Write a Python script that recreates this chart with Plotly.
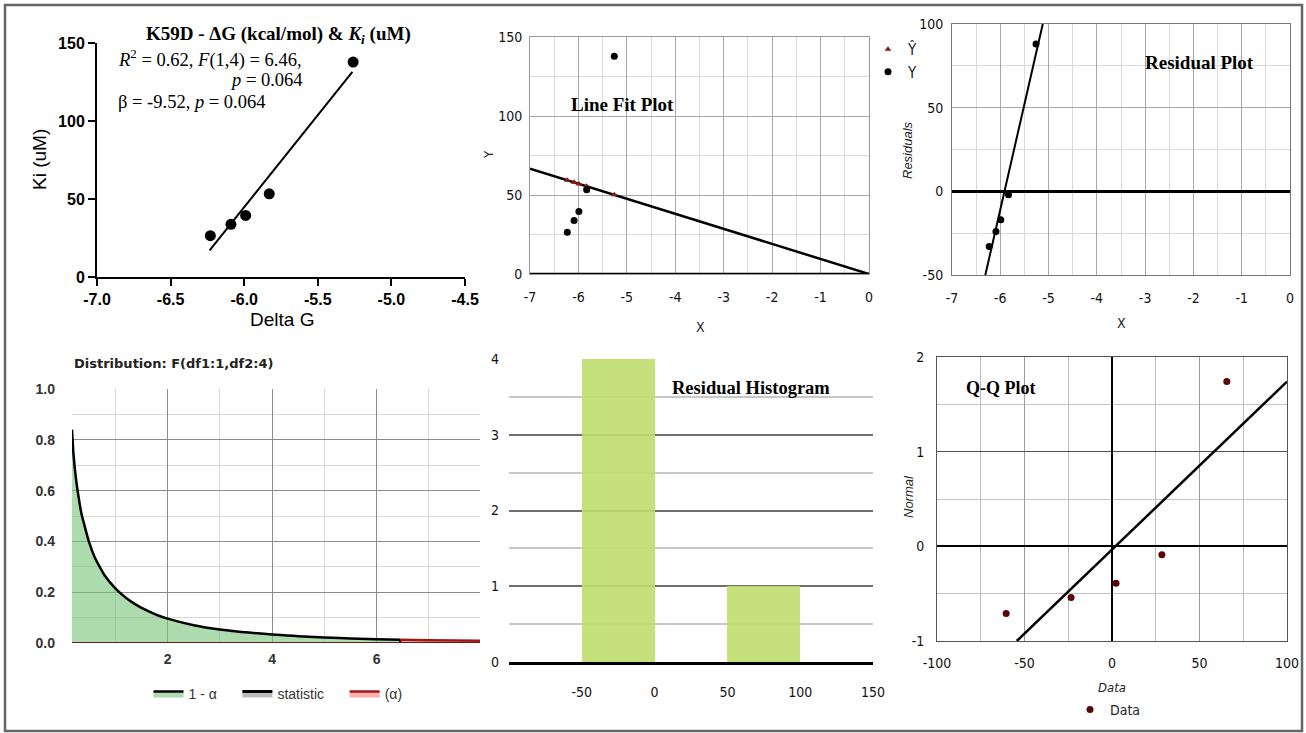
import numpy as np
import plotly.graph_objects as go

W, H = 1306, 733

# ---------------- data ----------------
# Panel 1: Delta G vs Ki
dg = [-6.23, -6.09, -5.99, -5.83, -5.26]
ki = [26.5, 33.8, 39.5, 53.3, 137.8]
ki_fit_x = [-6.235, -5.265]
ki_fit_y = [17.0, 131.5]
p1_xticks = [-7.0, -6.5, -6.0, -5.5, -5.0, -4.5]
p1_xlabels = ["-7.0", "-6.5", "-6.0", "-5.5", "-5.0", "-4.5"]
p1_yticks = [0, 50, 100, 150]

# Panel 2: line fit plot
yhat = [59.3, 58.0, 57.0, 55.5, 50.1]
linefit_x = [-7.0, 0.0]
linefit_y = [66.6, 0.0]
x7_ticks = [-7, -6, -5, -4, -3, -2, -1, 0]
x7_labels = ["-7", "-6", "-5", "-4", "-3", "-2", "-1", "0"]
p2_yticks = [0, 50, 100, 150]

# Panel 3: residual plot
resid = [-33.0, -24.0, -17.0, -2.0, 88.0]
resid_line_x = [-6.31, -5.12]
resid_line_y = [-50.0, 100.0]
p3_yticks = [-50, 0, 50, 100]
p3_ylabels = ["-50", "0", "50", "100"]

# Panel 4: F(1,4) distribution
f_x = [0.17, 0.2, 0.25, 0.3, 0.35, 0.4, 0.5, 0.6, 0.7, 0.8, 1.0, 1.2, 1.4, 1.6, 1.8,
       2.0, 2.5, 3.0, 3.5, 4.0, 4.5, 5.0, 5.5, 6.0, 6.46, 7.0, 7.5, 7.98]
f_y = [0.84, 0.74, 0.64, 0.57, 0.51, 0.47, 0.395, 0.34, 0.30, 0.265, 0.215, 0.178, 0.15,
       0.128, 0.11, 0.096, 0.07, 0.053, 0.042, 0.033, 0.027, 0.022, 0.018, 0.015, 0.013,
       0.011, 0.0098, 0.0085]
f_stat = 6.46
p4_xticks = [2, 4, 6]
p4_yticks = [0.0, 0.2, 0.4, 0.6, 0.8, 1.0]
p4_ylabels = ["0.0", "0.2", "0.4", "0.6", "0.8", "1.0"]

# Panel 5: residual histogram
hist_start, hist_end, hist_size = -50, 100, 50
p5_xticks = [-50, 0, 50, 100, 150]
p5_xlabels = ["-50", "0", "50", "100", "150"]
p5_yticks = [0, 1, 2, 3, 4]

# Panel 6: Q-Q plot
qq_x = [-60.5, -23.4, 2.3, 28.5, 65.6]
qq_y = [-0.71, -0.54, -0.39, -0.09, 1.74]
qq_line_x = [-54.4, 100.0]
qq_line_y = [-1.0, 1.74]
p6_xticks = [-100, -50, 0, 50, 100]
p6_xlabels = ["-100", "-50", "0", "50", "100"]
p6_yticks = [-1, 0, 1, 2]
p6_ylabels = ["-1", "0", "1", "2"]

# ---------------- helpers ----------------
SERIF = "Liberation Serif, Times New Roman, serif"
SANS = "Liberation Sans, Arial, sans-serif"
WIDE = "DejaVu Sans, Verdana, sans-serif"
NARROW = "Liberation Sans Narrow, DejaVu Sans Condensed, Arial Narrow, sans-serif"
NBSP = "\u00a0"


def dx(a, b):
    return [a / W, b / W]


def dy(top, bottom):
    return [1 - bottom / H, 1 - top / H]


def px(x):
    return x / W


def py(y):
    return 1 - y / H


fig = go.Figure()

# Panel 1
fig.add_trace(go.Scatter(x=ki_fit_x, y=ki_fit_y, mode="lines", line=dict(color="black", width=2),
                         xaxis="x", yaxis="y", showlegend=False))
fig.add_trace(go.Scatter(x=dg, y=ki, mode="markers", marker=dict(color="black", size=11),
                         xaxis="x", yaxis="y", showlegend=False, cliponaxis=False))

# Panel 2
fig.add_trace(go.Scatter(x=linefit_x, y=linefit_y, mode="lines", line=dict(color="black", width=2.5),
                         xaxis="x2", yaxis="y2", showlegend=False))
fig.add_trace(go.Scatter(x=dg, y=yhat, mode="markers", name="Ŷ",
                         marker=dict(color="#8b1a1a", size=6, symbol="triangle-up"),
                         xaxis="x2", yaxis="y2", legend="legend"))
fig.add_trace(go.Scatter(x=dg, y=ki, mode="markers", name="Y",
                         marker=dict(color="black", size=7, symbol="circle"),
                         xaxis="x2", yaxis="y2", legend="legend"))

# Panel 3
fig.add_trace(go.Scatter(x=resid_line_x, y=resid_line_y, mode="lines", line=dict(color="black", width=2),
                         xaxis="x3", yaxis="y3", showlegend=False))
fig.add_trace(go.Scatter(x=dg, y=resid, mode="markers", marker=dict(color="black", size=7),
                         xaxis="x3", yaxis="y3", showlegend=False))

# Panel 4
fx = np.array(f_x)
fy = np.array(f_y)
m1 = fx <= f_stat
m2 = fx >= f_stat
fig.add_trace(go.Scatter(x=fx[m1], y=fy[m1], mode="lines", name="1 - α" + NBSP * 4, fill="tozeroy",
                         fillcolor="rgba(120,195,120,0.6)", line=dict(color="black", width=2.5, shape="spline"),
                         xaxis="x4", yaxis="y4", legend="legend2"))
fig.add_trace(go.Scatter(x=[f_stat, f_stat], y=[0, fy[fx == f_stat][0]], mode="lines",
                         name="statistic" + NBSP * 4,
                         fill="tozeroy", fillcolor="rgba(160,160,160,0.7)", line=dict(color="black", width=3),
                         xaxis="x4", yaxis="y4", legend="legend2"))
fig.add_trace(go.Scatter(x=fx[m2], y=fy[m2], mode="lines", name="(α)", fill="tozeroy",
                         fillcolor="rgba(255,120,120,0.6)", line=dict(color="#a01818", width=2.5, shape="spline"),
                         xaxis="x4", yaxis="y4", legend="legend2"))

# Panel 5
fig.add_trace(go.Histogram(x=resid, xbins=dict(start=hist_start, end=hist_end, size=hist_size),
                           marker=dict(color="rgba(190,222,110,0.9)", line=dict(width=0)),
                           xaxis="x5", yaxis="y5", showlegend=False))

# Panel 6
fig.add_trace(go.Scatter(x=qq_line_x, y=qq_line_y, mode="lines", line=dict(color="black", width=2.5),
                         xaxis="x6", yaxis="y6", showlegend=False))
fig.add_trace(go.Scatter(x=qq_x, y=qq_y, mode="markers", name="Data",
                         marker=dict(color="#5a0606", size=7),
                         xaxis="x6", yaxis="y6", legend="legend3"))

narrow_tick = dict(family=NARROW, size=14, color="#111")
box_line = "#9a9a9a"

layout = dict(
    width=W, height=H, margin=dict(l=0, r=0, t=0, b=0, autoexpand=False),
    paper_bgcolor="white", plot_bgcolor="white",
    bargap=0,
    # Panel 1
    xaxis=dict(domain=dx(97, 465), anchor="y", range=[-7, -4.5], tickmode="array",
               tickvals=p1_xticks, ticktext=p1_xlabels, showline=True, linecolor="black", linewidth=2,
               ticks="outside", ticklen=7, tickwidth=2, tickcolor="black", showgrid=False, zeroline=False,
               tickfont=dict(family=SANS, size=16, color="black", weight="bold")),
    yaxis=dict(domain=dy(43, 277), anchor="x", range=[0, 150], tickmode="array", tickvals=p1_yticks,
               showline=True, linecolor="black", linewidth=2, ticks="outside", ticklen=7, tickwidth=2,
               tickcolor="black", showgrid=False, zeroline=False,
               tickfont=dict(family=SANS, size=16, color="black", weight="bold")),
    # Panel 2
    xaxis2=dict(domain=dx(530, 869), anchor="y2", range=[-7, 0], tickmode="array", tickvals=x7_ticks,
                ticktext=x7_labels, showgrid=True, gridcolor="#a8a8a8", zeroline=False,
                minor=dict(dtick=0.5, tick0=0, showgrid=True, gridcolor="#dadada"),
                showline=True, mirror=True, linecolor=box_line, ticks="", ticklabelstandoff=10,
                tickfont=narrow_tick),
    yaxis2=dict(domain=dy(37, 274), anchor="x2", range=[0, 150], tickmode="array", tickvals=p2_yticks,
                showgrid=True, gridcolor="#a8a8a8", zeroline=False,
                minor=dict(dtick=25, tick0=0, showgrid=True, gridcolor="#dadada"),
                showline=True, mirror=True, linecolor=box_line, ticks="", ticklabelstandoff=4,
                tickfont=narrow_tick),
    # Panel 3
    xaxis3=dict(domain=dx(952, 1290), anchor="y3", range=[-7, 0], tickmode="array", tickvals=x7_ticks,
                ticktext=x7_labels, showgrid=True, gridcolor="#a8a8a8", zeroline=False,
                minor=dict(dtick=0.5, tick0=0, showgrid=True, gridcolor="#dadada"),
                showline=True, mirror=True, linecolor="#777", ticks="", ticklabelstandoff=10,
                tickfont=narrow_tick),
    yaxis3=dict(domain=dy(24, 275), anchor="x3", range=[-50, 100], tickmode="array", tickvals=p3_yticks,
                ticktext=p3_ylabels, showgrid=True, gridcolor="#a8a8a8", zeroline=True,
                zerolinecolor="black", zerolinewidth=2.5,
                minor=dict(dtick=25, tick0=0, showgrid=True, gridcolor="#dadada"),
                showline=True, mirror=True, linecolor="#777", ticks="", ticklabelstandoff=5,
                tickfont=narrow_tick),
    # Panel 4
    xaxis4=dict(domain=dx(72, 480), anchor="y4", range=[0.17, 7.98], tickmode="array", tickvals=p4_xticks,
                showgrid=True, gridcolor="#8c8c8c", zeroline=False,
                minor=dict(dtick=1, tick0=0, showgrid=True, gridcolor="#d8d8d8"),
                showline=False, ticks="", ticklabelstandoff=6,
                tickfont=dict(family=SANS, size=14, color="#333", weight="bold")),
    yaxis4=dict(domain=dy(389, 643), anchor="x4", range=[0, 1], tickmode="array", tickvals=p4_yticks,
                ticktext=p4_ylabels, showgrid=True, gridcolor="#8c8c8c", zeroline=False,
                minor=dict(dtick=0.1, tick0=0, showgrid=True, gridcolor="#d8d8d8"),
                showline=False, ticks="", ticklabelstandoff=16,
                tickfont=dict(family=SANS, size=14, color="#333", weight="bold")),
    # Panel 5
    xaxis5=dict(domain=dx(509, 873), anchor="y5", range=[-100, 150], tickmode="array", tickvals=p5_xticks,
                ticktext=p5_xlabels, showgrid=False, zeroline=False, showline=True, linecolor="black",
                linewidth=3, ticks="", ticklabelstandoff=15, tickfont=narrow_tick),
    yaxis5=dict(domain=dy(359, 662), anchor="x5", range=[0, 4], tickmode="array", tickvals=p5_yticks,
                showgrid=True, gridcolor="#707070", gridwidth=1.5, zeroline=False,
                minor=dict(dtick=0.5, tick0=0, showgrid=True, gridcolor="#c8c8c8"),
                showline=False, ticks="", ticklabelstandoff=9, tickfont=narrow_tick),
    # Panel 6
    xaxis6=dict(domain=dx(937, 1287), anchor="y6", range=[-100, 100], tickmode="array", tickvals=p6_xticks,
                ticktext=p6_xlabels, showgrid=True, gridcolor="#9a9a9a", zeroline=True,
                zerolinecolor="black", zerolinewidth=2,
                minor=dict(dtick=25, tick0=0, showgrid=True, gridcolor="#bcbcbc"),
                showline=True, mirror=True, linecolor="#555", ticks="", ticklabelstandoff=9,
                tickfont=narrow_tick),
    yaxis6=dict(domain=dy(357, 641), anchor="x6", range=[-1, 2], tickmode="array", tickvals=p6_yticks,
                ticktext=p6_ylabels, showgrid=True, gridcolor="#505050", zeroline=True,
                zerolinecolor="black", zerolinewidth=2,
                minor=dict(dtick=0.5, tick0=0, showgrid=True, gridcolor="#c4c4c4"),
                showline=True, mirror=True, linecolor="#555", ticks="", ticklabelstandoff=9,
                tickfont=narrow_tick),
    legend=dict(x=px(868), y=py(33), xanchor="left", yanchor="top", bgcolor="rgba(0,0,0,0)",
                font=dict(family=NARROW, size=15, color="#222"), tracegroupgap=4, itemwidth=30),
    legend2=dict(x=px(278), y=py(694), xanchor="center", yanchor="middle", orientation="h",
                 bgcolor="rgba(0,0,0,0)", font=dict(family=SANS, size=14, color="#333")),
    legend3=dict(x=px(1108), y=py(710), xanchor="center", yanchor="middle", orientation="h",
                 bgcolor="rgba(0,0,0,0)", font=dict(family=NARROW, size=14, color="#222")),
)
fig.update_layout(**layout)


def ann(x, y, text, size, family, xanchor="center", angle=0, color="black"):
    fig.add_annotation(x=px(x), y=py(y), xref="paper", yref="paper", text=text, showarrow=False,
                       xanchor=xanchor, yanchor="middle", textangle=angle,
                       font=dict(family=family, size=size, color=color))


# Panel 1 texts
ann(278, 35, "<b>K59D - ΔG (kcal/mol) &amp; <i>K<sub>i</sub></i> (uM)</b>", 19, SERIF)
ann(116, 58, "<i>R</i><sup>2</sup> = 0.62, <i>F</i>(1,4) = 6.46,", 18.5, SERIF, xanchor="left")
ann(228, 80, "<i>p</i> = 0.064", 18.5, SERIF, xanchor="left")
ann(116, 102, "β = -9.52, <i>p</i> = 0.064", 18.5, SERIF, xanchor="left")
ann(40, 160, "Ki (uM)", 19, SANS, angle=-90)
ann(282, 320, "Delta G", 19, SANS)

# Panel 2 texts
ann(622, 104, "<b>Line Fit Plot</b>", 19, SERIF)
ann(488, 155, "Y", 13, NARROW, angle=-90, color="#222")
ann(700, 327, "X", 14, NARROW, color="#222")

# Panel 3 texts
ann(1199, 62, "<b>Residual Plot</b>", 19, SERIF)
ann(908, 150, "<i>Residuals</i>", 13, SANS, angle=-90, color="#222")
ann(1121, 323, "X", 14, NARROW, color="#222")

# Panel 4 texts
ann(72, 363, "<b>Distribution: F(df1:1,df2:4)</b>", 13, WIDE, xanchor="left", color="#222")

# Panel 5 texts
ann(751, 388, "<b>Residual Histogram</b>", 18.5, SERIF)

# Panel 6 texts
ann(1001, 388, "<b>Q-Q Plot</b>", 18, SERIF)
ann(908, 497, "<i>Normal</i>", 13, SANS, angle=-90, color="#222")
ann(1112, 687, "<i>Data</i>", 13, NARROW, color="#222")

# shapes: outer border, panel 2 base line, panel 4 base line
fig.add_shape(type="rect", xref="paper", yref="paper", x0=px(5), y0=py(731), x1=px(1302), y1=py(5),
              line=dict(color="#666", width=2.5), fillcolor="rgba(0,0,0,0)")
fig.add_shape(type="line", xref="x2 domain", yref="y2", x0=0, x1=1, y0=0, y1=0,
              line=dict(color="black", width=2.5))
fig.add_shape(type="line", xref="x4 domain", yref="y4", x0=0, x1=1, y0=0, y1=0,
              line=dict(color="#6b1a1a", width=2))

fig.write_html("out.html", config={"displayModeBar": False},
               post_script="document.body.style.margin='0';document.body.style.padding='0';"
                           "document.body.style.overflow='hidden';")
